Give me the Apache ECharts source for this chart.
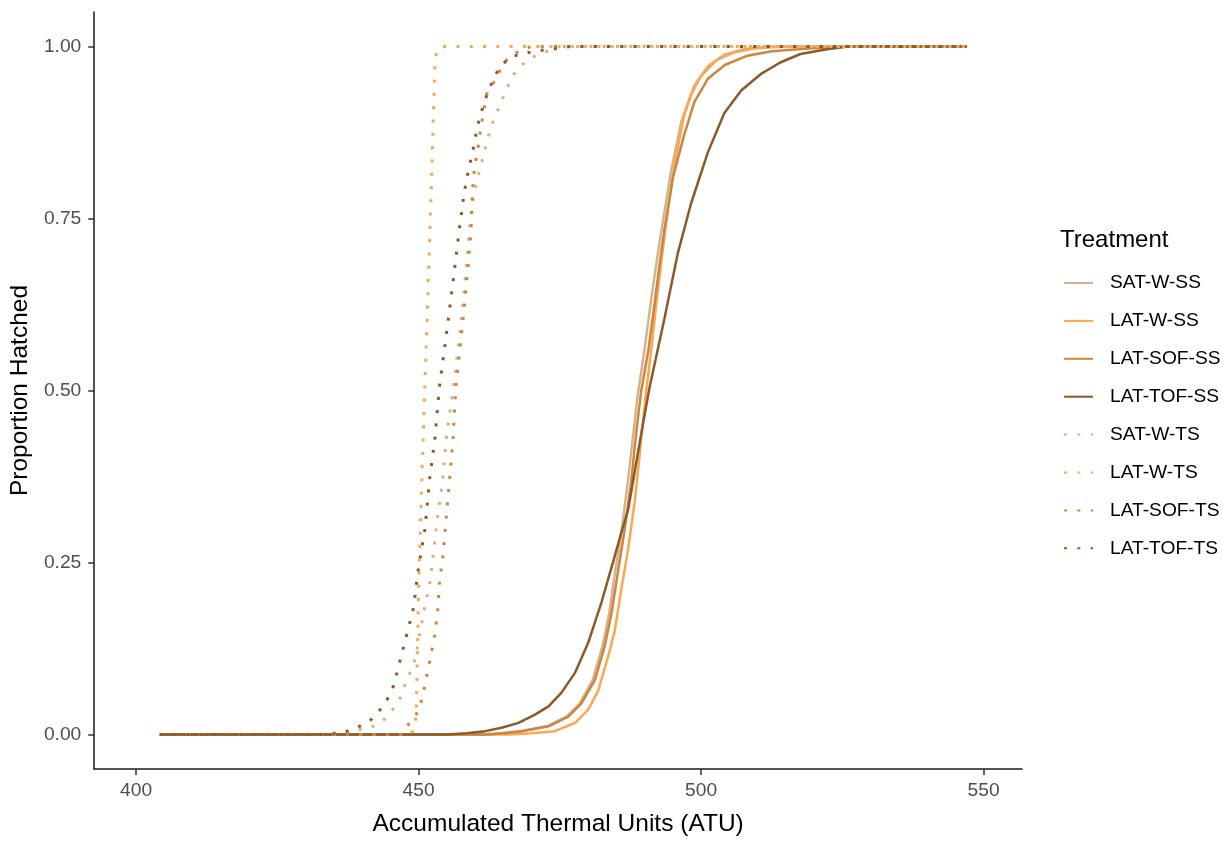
<!DOCTYPE html>
<html>
<head>
<meta charset="utf-8">
<title>Proportion Hatched by ATU</title>
<script src="https://cdn.jsdelivr.net/npm/echarts@6/dist/echarts.min.js"></script>
<style>
  html, body { margin: 0; padding: 0; background: #ffffff; }
  #chart { width: 1223px; height: 842px; }
</style>
</head>
<body>
<div id="chart"></div>
<script>
// Cumulative proportion hatched vs accumulated thermal units, one curve per treatment.
// Each array holds [ATU, proportion] pairs.
const satWSS = [[404.2,0],[461,0],[464.5,0.002],[468,0.005],[472.7,0.012],[476.2,0.026],[478.5,0.045],[480.8,0.079],[482.5,0.127],[483.7,0.174],[484.7,0.232],[485.9,0.294],[487.0,0.365],[488.0,0.437],[488.8,0.494],[490.0,0.56],[491.1,0.628],[492.0,0.68],[493.0,0.733],[494.7,0.819],[496.5,0.891],[498.2,0.929],[500.0,0.957],[502.9,0.981],[505.9,0.991],[509.4,0.997],[515,1],[547,1]];
const latWSS = [[404.2,0],[466,0],[470,0.002],[474.1,0.005],[477.7,0.017],[480.0,0.036],[481.8,0.064],[483.5,0.112],[484.7,0.15],[485.9,0.212],[487.1,0.27],[488.3,0.341],[489.2,0.413],[490.3,0.5],[491.2,0.56],[492.1,0.628],[493.0,0.69],[493.8,0.742],[495.3,0.828],[497.0,0.9],[498.8,0.943],[501.2,0.971],[504.1,0.988],[507.6,0.996],[512,1],[547,1]];
const latSOFSS = [[404.2,0],[462,0],[465,0.002],[468.3,0.005],[473.0,0.012],[476.5,0.026],[478.8,0.045],[481.2,0.079],[482.9,0.127],[484.1,0.174],[485.2,0.232],[486.4,0.294],[487.6,0.365],[488.5,0.437],[489.4,0.499],[490.7,0.56],[491.8,0.628],[492.6,0.68],[493.5,0.733],[495.0,0.809],[497.0,0.871],[498.8,0.919],[501.2,0.953],[504.2,0.973],[508.0,0.986],[512.5,0.993],[519,0.997],[526,1],[547,1]];
const latTOFSS = [[404.2,0],[455,0],[458.5,0.002],[461.8,0.005],[464.7,0.01],[467.7,0.017],[470.6,0.029],[473.0,0.041],[475.3,0.061],[477.7,0.09],[480.0,0.133],[482.4,0.193],[484.4,0.25],[485.9,0.294],[487.1,0.327],[488.5,0.394],[489.7,0.451],[490.9,0.505],[493.5,0.604],[495.9,0.7],[498.2,0.771],[501.2,0.846],[504.1,0.903],[507.1,0.936],[510.6,0.96],[514.1,0.977],[517.6,0.989],[522.3,0.996],[526,1],[547,1]];
const satWTS = [[404.2,0],[436,0],[439.3,0.007],[441.7,0.011],[443.7,0.02],[445.4,0.036],[446.8,0.054],[447.7,0.075],[448.6,0.092],[449.4,0.11],[450.3,0.15],[451.1,0.185],[452.0,0.221],[452.6,0.261],[453.4,0.318],[454.3,0.372],[454.9,0.431],[456.2,0.506],[457.5,0.597],[458.4,0.675],[459.0,0.733],[459.5,0.771],[460.4,0.807],[461.6,0.845],[462.8,0.883],[464.6,0.919],[466.6,0.957],[468.4,0.974],[470.4,0.985],[472.5,0.992],[475,1],[547,1]];
const latWTS = [[404.2,0],[448.6,0],[449.4,0.011],[449.6,0.032],[450.0,0.208],[450.5,0.351],[451.1,0.504],[451.7,0.652],[452.0,0.728],[452.3,0.805],[452.6,0.898],[452.9,0.973],[453.2,0.993],[454.1,1],[547,1]];
const latSOFTS = [[404.2,0],[447,0],[448.3,0.016],[449.7,0.031],[450.5,0.049],[451.1,0.071],[452.0,0.108],[452.9,0.146],[453.4,0.181],[453.7,0.221],[454.3,0.259],[454.9,0.316],[455.5,0.372],[456.1,0.429],[456.6,0.505],[457.8,0.597],[458.7,0.675],[459.3,0.733],[459.5,0.786],[459.9,0.825],[460.4,0.845],[461.0,0.881],[462.2,0.936],[464.1,0.956],[464.6,0.973],[466.3,0.985],[468.3,0.996],[470,1],[547,1]];
const latTOFTS = [[404.2,0],[432,0],[435,0.002],[437,0.004],[439.3,0.011],[441.4,0.02],[443.1,0.035],[444.5,0.052],[445.6,0.071],[446.8,0.11],[448.0,0.148],[449.1,0.184],[450.0,0.243],[451.1,0.297],[452.0,0.374],[452.9,0.431],[453.7,0.506],[454.9,0.58],[456.1,0.658],[457.2,0.733],[458.1,0.789],[459.0,0.827],[459.5,0.844],[460.4,0.883],[461.6,0.919],[462.4,0.936],[463.4,0.956],[464.6,0.972],[466.3,0.985],[470,0.992],[472.4,0.995],[474.7,0.997],[477,1],[547,1]];

const treatments = ['SAT-W-SS','LAT-W-SS','LAT-SOF-SS','LAT-TOF-SS','SAT-W-TS','LAT-W-TS','LAT-SOF-TS','LAT-TOF-TS'];
const curves = [satWSS, latWSS, latSOFSS, latTOFSS, satWTS, latWTS, latSOFTS, latTOFTS];
const xTicks = [400, 450, 500, 550];
const yTicks = [0, 0.25, 0.5, 0.75, 1];

// tan, tan1, tan3, tan4 for SAT-W, LAT-W, LAT-SOF, LAT-TOF
const palette = ['#D2B48C', '#FFA54F', '#CD853F', '#8B5A2B'];
const FONT = '"Liberation Sans", Arial, sans-serif';

const series = treatments.map((name, i) => {
  const dotted = i >= 4;
  return {
    name: name,
    type: 'line',
    data: curves[i],
    symbol: 'none',
    showSymbol: false,
    smooth: false,
    animation: false,
    color: palette[i % 4],
    lineStyle: {
      color: palette[i % 4],
      width: dotted ? 3 : 2.5,
      type: dotted ? [3, 10.3] : 'solid',
      cap: 'butt'
    },
    emphasis: { disabled: true }
  };
});

const chart = echarts.init(document.getElementById('chart'), null, { renderer: 'canvas' });
chart.setOption({
  backgroundColor: '#ffffff',
  animation: false,
  textStyle: { fontFamily: FONT },
  title: {
    text: 'Treatment',
    left: 1060,
    top: 228,
    padding: 0,
    textStyle: { fontFamily: FONT, fontSize: 24, fontWeight: 'normal', color: '#000000' }
  },
  legend: {
    data: treatments,
    orient: 'vertical',
    left: 1063,
    top: 273,
    padding: 0,
    itemWidth: 29,
    itemHeight: 20,
    itemGap: 17.9,
    selectedMode: false,
    itemStyle: { opacity: 0, borderWidth: 0 },
    textStyle: { fontFamily: FONT, fontSize: 19.2, color: '#000000', lineHeight: 20, padding: [0, 0, 0, 12] }
  },
  grid: { left: 92, right: 201, top: 12, bottom: 62, containLabel: false },
  xAxis: {
    type: 'value',
    min: 392.6,
    max: 556.8,
    name: 'Accumulated Thermal Units (ATU)',
    nameLocation: 'middle',
    nameGap: 43,
    nameTextStyle: { fontFamily: FONT, fontSize: 24.5, color: '#000000' },
    axisLine: { show: true, onZero: false, lineStyle: { color: '#1a1a1a', width: 1.5 } },
    axisTick: { show: true, length: 6, customValues: xTicks, lineStyle: { color: '#333333', width: 1.5 } },
    axisLabel: { customValues: xTicks, fontFamily: FONT, fontSize: 19.2, color: '#4D4D4D', margin: 12 },
    splitLine: { show: false }
  },
  yAxis: {
    type: 'value',
    min: -0.05,
    max: 1.05,
    name: 'Proportion Hatched',
    nameLocation: 'middle',
    nameGap: 54,
    nameTextStyle: { fontFamily: FONT, fontSize: 24.5, color: '#000000' },
    axisLine: { show: true, onZero: false, lineStyle: { color: '#1a1a1a', width: 1.5 } },
    axisTick: { show: true, length: 6, customValues: yTicks, lineStyle: { color: '#333333', width: 1.5 } },
    axisLabel: { customValues: yTicks, fontFamily: FONT, fontSize: 19.2, color: '#4D4D4D', margin: 13,
      formatter: v => v.toFixed(2) },
    splitLine: { show: false }
  },
  series: series
});
</script>
</body>
</html>
